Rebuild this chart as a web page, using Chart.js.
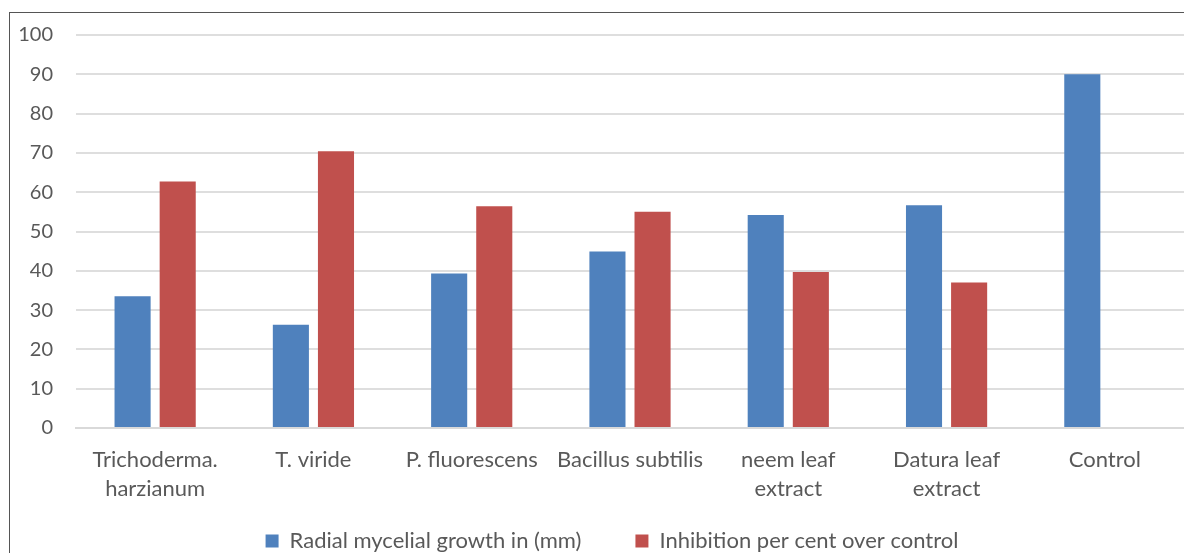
<!DOCTYPE html>
<html>
<head>
<meta charset="utf-8">
<script src="https://cdn.jsdelivr.net/npm/chart.js@4"></script>
<style>
  html, body { margin: 0; padding: 0; background: #fff; overflow: hidden; }
  #frame { position: absolute; left: 9px; top: 12px; width: 1300px; height: 700px;
           border-left: 1px solid #555; border-top: 1px solid #555; }
  #wrap { position: absolute; left: 0; top: 0; width: 1184px; height: 594px; }
</style>
</head>
<body>
<div id="frame"></div>
<div id="wrap"><canvas id="growthChart"></canvas></div>
<script>
var categories = [
  ["Trichoderma.", "harzianum"],
  "T. viride",
  "P. fluorescens",
  "Bacillus subtilis",
  ["neem leaf", "extract"],
  ["Datura leaf", "extract"],
  "Control"
];
var radialGrowth = [33.5, 26.3, 39.3, 44.9, 54.2, 56.7, 90.0];
var inhibition = [62.7, 70.4, 56.4, 55.0, 39.7, 37.0, 0];
var seriesNames = ["Radial mycelial growth in (mm)", "Inhibition per cent over control"];
var yTicks = [0, 10, 20, 30, 40, 50, 60, 70, 80, 90, 100];

var textColor = "#595959";
var fontFamily = "Lato, 'Open Sans', sans-serif";

var chartdata = {
  labels: categories,
  datasets: [
    {
      label: seriesNames[0],
      backgroundColor: "#4F81BD",
      data: radialGrowth,
      categoryPercentage: 0.57,
      barPercentage: 0.8
    },
    {
      label: seriesNames[1],
      backgroundColor: "#C0504D",
      data: inhibition,
      categoryPercentage: 0.57,
      barPercentage: 0.8
    }
  ]
};

// nudge the legend: Excel centres it on the whole frame and sits it a bit higher
var legendShift = {
  id: "legendShift",
  afterLayout: function (chart) {
    var lg = chart.legend;
    lg.top -= 32; lg.bottom -= 32;
    lg.left += 20; lg.right += 20;
  }
};

new Chart(document.getElementById("growthChart"), {
  type: "bar",
  data: chartdata,
  plugins: [legendShift],
  options: {
    responsive: true,
    maintainAspectRatio: false,
    animation: false,
    layout: { padding: { top: 33, left: 0, right: 0, bottom: 0 } },
    plugins: {
      tooltip: { enabled: false },
      legend: {
        position: "bottom",
        labels: {
          boxWidth: 13,
          boxHeight: 13,
          padding: 54,
          color: textColor,
          font: { family: fontFamily, size: 22 }
        }
      }
    },
    scales: {
      x: {
        grid: { display: false, drawTicks: false },
        border: { color: "#d9d9d9", width: 2 },
        ticks: {
          color: textColor,
          padding: 17.5,
          maxRotation: 0,
          autoSkip: false,
          font: { family: fontFamily, size: 22, lineHeight: 1.32 }
        },
        afterFit: function (scale) { scale.height = 80; }
      },
      y: {
        min: 0,
        max: 100,
        afterBuildTicks: function (scale) {
          scale.ticks = yTicks.map(function (v) { return { value: v }; });
        },
        grid: { color: "#dedede", lineWidth: 2, drawTicks: false },
        border: { display: false },
        ticks: {
          color: textColor,
          padding: 23,
          font: { family: fontFamily, size: 20 }
        },
        afterFit: function (scale) { scale.width = 76; }
      }
    }
  }
});
</script>
</body>
</html>
